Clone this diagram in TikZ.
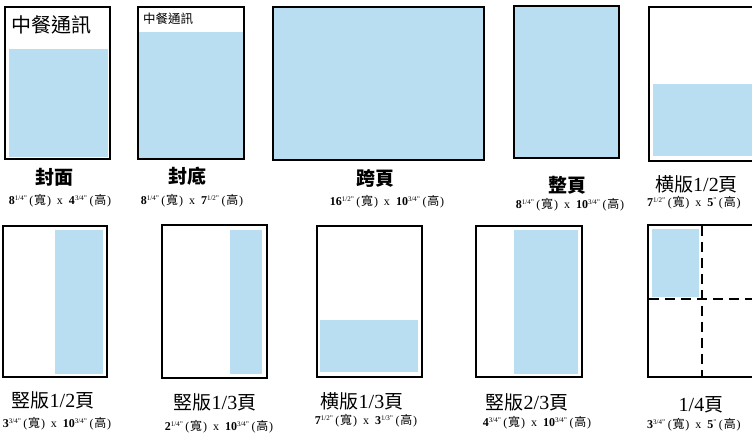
\documentclass[tikz,border=0pt]{standalone}
\usepackage{fontspec}
\setmainfont{Liberation Serif}
\newfontfamily\cjk{Noto Sans CJK TC}
\definecolor{pageblue}{RGB}{186,222,241}
\newcommand{\supf}[1]{\raisebox{4.5pt}{\fontsize{7}{8}\selectfont #1"}}
\newcommand{\cjkp}[1]{\hspace{2.5pt}(\hspace{0.8pt}{\cjk\fontsize{12}{12}\selectfont #1}\hspace{0.8pt})}
\newcommand{\dimtxt}[4]{\fontsize{12}{13}\selectfont\textbf{#1}\supf{#2}\cjkp{寬}\hspace{6pt}x\hspace{6pt}\textbf{#3}\supf{#4}\cjkp{高}}
\tikzset{
  pagebox/.style={draw=black,line width=2pt},
  bluefill/.style={fill=pageblue,draw=none},
  biglabel/.style={inner sep=0pt,font=\cjk\bfseries\fontsize{19}{21}\selectfont},
  lightlabel/.style={inner sep=0pt,font=\cjk\fontsize{19}{21}\selectfont},
  dimlabel/.style={inner sep=0pt},
  cutline/.style={line width=1.1pt,dash pattern=on 10pt off 6pt}
}
\newcommand{\num}[1]{{\rmfamily\fontsize{20}{21}\selectfont #1}}
\begin{document}
\begin{tikzpicture}[x=1pt,y=-1pt]
\useasboundingbox (0,0) rectangle (752,435);
\clip (0,0) rectangle (752,435);
% ---- top row ----
% cover
\fill[bluefill] (9,49) rectangle (108,157);
\draw[pagebox] (5,7) rectangle (110,159);
\node[anchor=west,inner sep=0pt,font=\cjk\fontsize{20}{22}\selectfont] (t1) at (11,25) {中餐通訊};
\node[biglabel] (l1) at (54,177) {封面};
\node[dimlabel] (d1) at (60,201) {\dimtxt{8}{1/4}{4}{3/4}};
% back cover
\fill[bluefill] (138,32) rectangle (244,159);
\draw[pagebox] (138,7) rectangle (244,159);
\node[anchor=west,inner sep=0pt,font=\cjk\fontsize{12.5}{14}\selectfont] (t2) at (143,19) {中餐通訊};
\node[biglabel] (l2) at (187,176) {封底};
\node[dimlabel] (d2) at (192,201) {\dimtxt{8}{1/4}{7}{1/2}};
% spread
\fill[bluefill] (273,7) rectangle (484,160);
\draw[pagebox] (273,7) rectangle (484,160);
\node[biglabel] (l3) at (375,178) {跨頁};
\node[dimlabel] (d3) at (387,202) {\dimtxt{16}{1/2}{10}{3/4}};
% full page
\fill[bluefill] (514,6) rectangle (619,158);
\draw[pagebox] (514,6) rectangle (619,158);
\node[biglabel] (l4) at (567,185) {整頁};
\node[dimlabel] (d4) at (570,205) {\dimtxt{8}{1/4}{10}{3/4}};
% horizontal 1/2
\fill[bluefill] (653,84) rectangle (770,156);
\draw[pagebox] (649,7) rectangle (770,161);
\node[lightlabel,anchor=west] (l5) at (655,184) {横版\num{1/2}頁};
\node[dimlabel,anchor=west] (d5) at (647,203) {\dimtxt{7}{1/2}{5}{}};
% ---- bottom row ----
% vertical 1/2
\fill[bluefill] (55,230) rectangle (103,374);
\draw[pagebox] (3,226) rectangle (107,377);
\node[lightlabel] (l6) at (53,400) {竪版\num{1/2}頁};
\node[dimlabel] (d6) at (57,424) {\dimtxt{3}{3/4}{10}{3/4}};
% vertical 1/3
\fill[bluefill] (230,230) rectangle (262,374);
\draw[pagebox] (162,225) rectangle (267,378);
\node[lightlabel] (l7) at (215,402) {竪版\num{1/3}頁};
\node[dimlabel] (d7) at (219,427) {\dimtxt{2}{1/4}{10}{3/4}};
% horizontal 1/3
\fill[bluefill] (320,320) rectangle (418,372);
\draw[pagebox] (317,226) rectangle (422,377);
\node[lightlabel] (l8) at (362,401) {横版\num{1/3}頁};
\node[dimlabel] (d8) at (366,421) {\dimtxt{7}{1/2}{3}{1/3}};
% vertical 2/3
\fill[bluefill] (514,230) rectangle (578,374);
\draw[pagebox] (476,226) rectangle (582,377);
\node[lightlabel] (l9) at (527,402) {竪版\num{2/3}頁};
\node[dimlabel] (d9) at (537,423) {\dimtxt{4}{3/4}{10}{3/4}};
% quarter
\fill[bluefill] (652,229) rectangle (699,297);
\draw[pagebox] (648,225) rectangle (770,377);
\coordinate (qt) at (702,226);
\coordinate (qb) at (702,377);
\coordinate (ql) at (649,299);
\coordinate (qr) at (770,299);
\draw[cutline] (qt) -- (qb);
\draw[cutline] (ql) -- (qr);
\node[lightlabel] (l10) at (701,405) {\num{1/4}頁};
\node[dimlabel,anchor=west] (d10) at (647,425) {\dimtxt{3}{3/4}{5}{}};
\end{tikzpicture}
\end{document}
